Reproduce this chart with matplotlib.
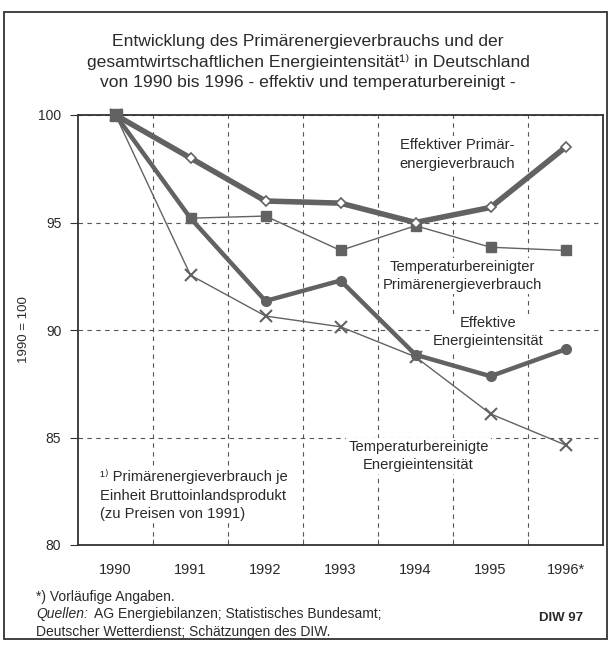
import matplotlib
matplotlib.use("Agg")
import matplotlib.pyplot as plt
from matplotlib.patches import Rectangle

plt.rcParams['font.family'] = ['Liberation Sans', 'DejaVu Sans']

years = ['1990', '1991', '1992', '1993', '1994', '1995', '1996*']
pev_eff = [100.0, 98.0, 96.0, 95.9, 95.0, 95.7, 98.5]
pev_temp = [100.0, 95.2, 95.3, 93.7, 94.85, 93.85, 93.7]
int_eff = [100.0, 95.2, 91.35, 92.3, 88.85, 87.85, 89.1]
int_temp = [100.0, 92.55, 90.65, 90.15, 88.75, 86.1, 84.65]
yticks = [80, 85, 90, 95, 100]

grey = '#626262'
txt = '#2a2a2a'
wbox = dict(facecolor='white', edgecolor='none', pad=1.5)

fig = plt.figure(figsize=(6.11, 6.45), dpi=100)
fig.patch.set_facecolor('white')

# outer frame
fig.patches.append(Rectangle((4 / 611, 6 / 645), 603 / 611, 627 / 645,
                             transform=fig.transFigure, fill=False,
                             edgecolor='#333333', linewidth=1.3))

ax = fig.add_axes([78 / 611, 1 - 545 / 645, 525 / 611, 430 / 645])
x = list(range(len(years)))

ax.plot(x, pev_temp, color=grey, lw=1.0, marker='s', ms=7,
        mfc=grey, mec=grey, zorder=3, clip_on=False)
ax.plot(x, int_temp, color=grey, lw=1.0, marker='x', ms=8,
        mew=1.5, mec=grey, zorder=3, clip_on=False)
ax.plot(x, int_eff, color=grey, lw=3.2, marker='o', ms=7,
        mfc=grey, mec=grey, zorder=4, clip_on=False)
ax.plot(x, pev_eff, color=grey, lw=4.0, marker='D', ms=5,
        mfc='white', mec=grey, mew=1.2, zorder=5, clip_on=False)
# 1990 start point drawn as square on top
ax.plot(x[:1], pev_temp[:1], ls='none', marker='s', ms=8, mfc=grey,
        mec=grey, zorder=6, clip_on=False)

ax.set_xlim(-0.5, 6.5)
ax.set_ylim(80, 100)
ax.set_yticks(yticks)
ax.set_yticklabels([str(v) for v in yticks], fontsize=10, color=txt)
ax.set_xticks(x)
ax.set_xticklabels(years, fontsize=10.5, color=txt)
ax.tick_params(axis='x', length=0, pad=13)
ax.tick_params(axis='y', length=6, direction='out', pad=6, color='#333333')
ax.set_xticks([i + 0.5 for i in range(6)], minor=True)
ax.tick_params(axis='x', which='minor', length=4, direction='in', color='#555555')
ax.grid(which='minor', axis='x', color='#555555', linestyle=(0, (4, 4)), lw=0.8)
ax.grid(which='major', axis='y', color='#555555', linestyle=(0, (4, 4)), lw=0.8)
ax.set_axisbelow(True)
for s in ax.spines.values():
    s.set_color('#333333')
    s.set_linewidth(1.3)

ax.set_ylabel('1990 = 100', fontsize=9.5, color=txt)
ax.yaxis.set_label_coords(-0.091, 0.5)

fig.text(0.504, 1 - 62 / 645,
         'Entwicklung des Primärenergieverbrauchs und der\n'
         'gesamtwirtschaftlichen Energieintensität¹⁾ in Deutschland\n'
         'von 1990 bis 1996 - effektiv und temperaturbereinigt -',
         ha='center', va='center', fontsize=12.6, color=txt, linespacing=1.4)

lab = dict(ha='center', va='center', fontsize=10.6, color=txt,
           linespacing=1.4, bbox=wbox, zorder=2)
ax.text(4.56, 98.16, 'Effektiver Primär-\nenergieverbrauch', **lab)
ax.text(4.63, 92.51, 'Temperaturbereinigter\nPrimärenergieverbrauch', **lab)
ax.text(4.97, 89.91, 'Effektive\nEnergieintensität', **lab)
ax.text(4.04, 84.14, 'Temperaturbereinigte\nEnergieintensität', **lab)
ax.text(-0.2, 83.53, '¹⁾ Primärenergieverbrauch je\nEinheit Bruttoinlandsprodukt\n(zu Preisen von 1991)',
        ha='left', va='top', fontsize=10.6, color=txt, linespacing=1.4,
        bbox=wbox, zorder=2)

fig.text(36 / 611, 1 - 597 / 645, '*) Vorläufige Angaben.', fontsize=10,
         color=txt, va='center')
fig.text(36 / 611, 1 - 614 / 645, 'Quellen:', fontsize=10, color=txt,
         va='center', style='italic')
fig.text(94 / 611, 1 - 614 / 645, 'AG Energiebilanzen; Statistisches Bundesamt;',
         fontsize=10, color=txt, va='center')
fig.text(36 / 611, 1 - 632 / 645, 'Deutscher Wetterdienst; Schätzungen des DIW.',
         fontsize=10, color=txt, va='center')
fig.text(583 / 611, 1 - 618 / 645, 'DIW 97', fontsize=9.5, color=txt,
         va='center', ha='right', weight='bold')

fig.savefig('out.png', dpi=100, facecolor='white')
